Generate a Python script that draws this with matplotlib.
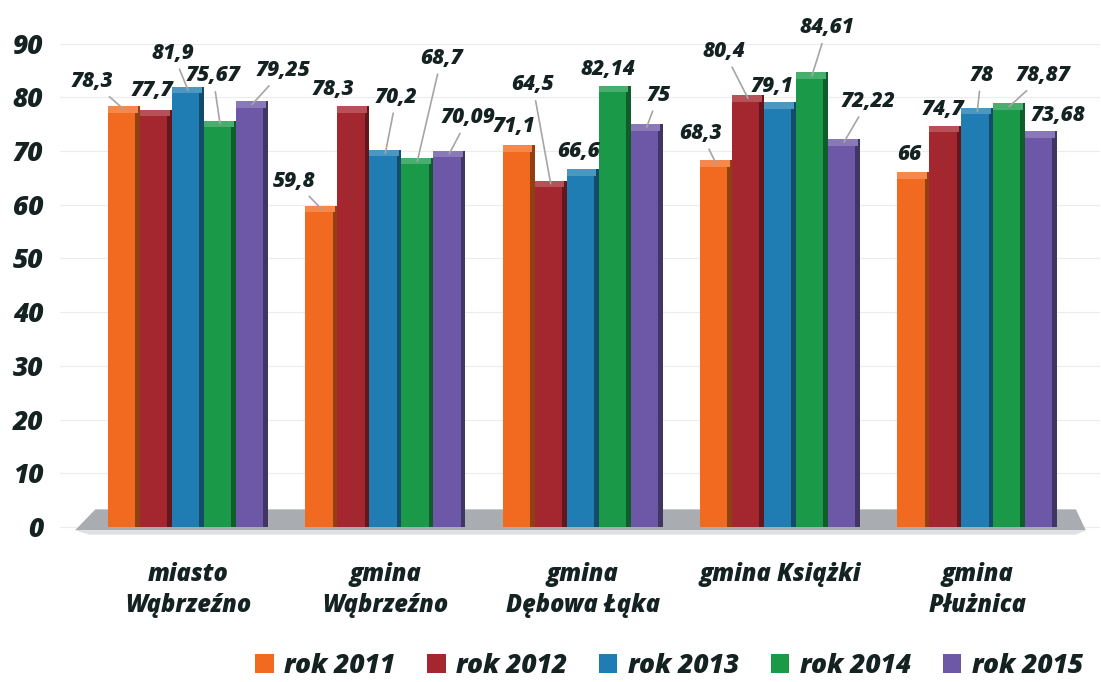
import numpy as np
import matplotlib
matplotlib.use('Agg')
import matplotlib.pyplot as plt
from matplotlib.patches import Polygon, Patch
from matplotlib.colors import to_rgb

# data
categories = ['miasto\nWąbrzeźno', 'gmina\nWąbrzeźno', 'gmina\nDębowa Łąka',
              'gmina Książki', 'gmina\nPłużnica']
series = ['rok 2011', 'rok 2012', 'rok 2013', 'rok 2014', 'rok 2015']
rok_2011 = [78.3, 59.8, 71.1, 68.3, 66]
rok_2012 = [77.7, 78.3, 64.5, 80.4, 74.7]
rok_2013 = [81.9, 70.2, 66.6, 79.1, 78]
rok_2014 = [75.67, 68.7, 82.14, 84.61, 78.87]
rok_2015 = [79.25, 70.09, 75, 72.22, 73.68]
values = [rok_2011, rok_2012, rok_2013, rok_2014, rok_2015]
label_text = [['78,3', '59,8', '71,1', '68,3', '66'],
              ['77,7', '78,3', '64,5', '80,4', '74,7'],
              ['81,9', '70,2', '66,6', '79,1', '78'],
              ['75,67', '68,7', '82,14', '84,61', '78,87'],
              ['79,25', '70,09', '75', '72,22', '73,68']]
yticks = [0, 10, 20, 30, 40, 50, 60, 70, 80, 90]

# label layout: offset in pixels (dx, dy) and whether a leader line is drawn
label_offsets = [
    [(-32, 28, 1), (-27, 28, 1), (-5, 22, 0), (-15, 30, 1), (-4, 21, 0)],
    [(-4, 22, 0), (-20, 20, 0), (-18, 99, 1), (-24, 47, 1), (-2, 19, 0)],
    [(-15, 37, 1), (11, 56, 1), (-4, 21, 0), (-8, 19, 0), (4, 36, 1)],
    [(-7, 48, 1), (24, 103, 1), (-7, 19, 0), (15, 48, 1), (34, 31, 1)],
    [(31, 34, 1), (19, 36, 1), (12, 32, 1), (24, 41, 1), (17, 19, 0)],
]

colors = ['#f26a1f', '#a4262e', '#1f7db3', '#1a9a48', '#6c58a6']
text_color = '#152222'
font = dict(family=['Open Sans', 'DejaVu Sans'], weight=800, style='italic')

fig = plt.figure(figsize=(11.01, 6.82), dpi=100, facecolor='white')
ax = fig.add_axes([60 / 1101, 142 / 682, 1040 / 1101, 540 / 682])

x = np.arange(len(categories))
w = 0.162

# floor
floor = Polygon([(-0.573, -0.6), (-0.47, 3.3), (4.5, 3.3), (4.55, -0.6)],
                closed=True, facecolor='#a9adb2', edgecolor='none', zorder=1)
ax.add_patch(floor)
shadow = Polygon([(-0.573, -0.6), (4.55, -0.6), (4.5, -1.4), (-0.5, -1.4)],
                 closed=True, facecolor='#dfe0e3', edgecolor='none', zorder=1)
ax.add_patch(shadow)

for j, (vals, col) in enumerate(zip(values, colors)):
    xs = x + (j - 2) * w
    base = np.array(to_rgb(col))
    dark = base * 0.6
    light = np.clip(base + (1 - base) * 0.2, 0, 1)
    ax.bar(xs, vals, width=w, color=col, edgecolor='none', zorder=3,
           label=series[j])
    # darker side strip
    ax.bar(xs + w / 2 - 0.012, vals, width=0.024, color=dark,
           edgecolor='none', zorder=4)
    # lighter top cap
    ax.bar(xs - 0.006, 1.2, bottom=np.array(vals) - 1.2, width=w - 0.012,
           color=light, edgecolor='none', zorder=4)
    for i, v in enumerate(vals):
        dx, dy, lead = label_offsets[j][i]
        ap = dict(arrowstyle='-', color='#a5a5a5', lw=1.2,
                  shrinkA=2, shrinkB=0) if lead else None
        ax.annotate(label_text[j][i], xy=(xs[i], v - 0.6),
                    xytext=(dx, dy), textcoords='offset pixels',
                    ha='center', va='center', fontsize=15,
                    color=text_color, arrowprops=ap, zorder=6,
                    annotation_clip=False, **font)

ax.set_xlim(-0.649, 4.622)
ax.set_ylim(-2.4, 98.1)

ax.set_yticks(yticks)
ax.set_yticklabels([str(t) for t in yticks], fontsize=19, color=text_color,
                   **font)
ax.set_xticks(x)
ax.set_xticklabels(categories, fontsize=17, color=text_color,
                   linespacing=1.3, **font)
ax.tick_params(axis='both', length=0)
ax.tick_params(axis='y', pad=12)
ax.tick_params(axis='x', pad=16)

ax.yaxis.grid(True, color='#ececec', lw=0.8, zorder=0)
ax.set_axisbelow(True)
for s in ax.spines.values():
    s.set_visible(False)

handles = [Patch(facecolor=c, edgecolor='none') for c in colors]
leg = fig.legend(handles, series, loc='lower right',
                 bbox_to_anchor=(1.005, -0.03),
                 ncol=5, frameon=False, handlelength=0.7, handleheight=0.7,
                 handletextpad=0.4, columnspacing=1.2,
                 prop=dict(family=['Open Sans', 'DejaVu Sans'], weight=800,
                           style='italic', size=19))
for t in leg.get_texts():
    t.set_color(text_color)

fig.savefig('out.png', dpi=100, facecolor='white')
